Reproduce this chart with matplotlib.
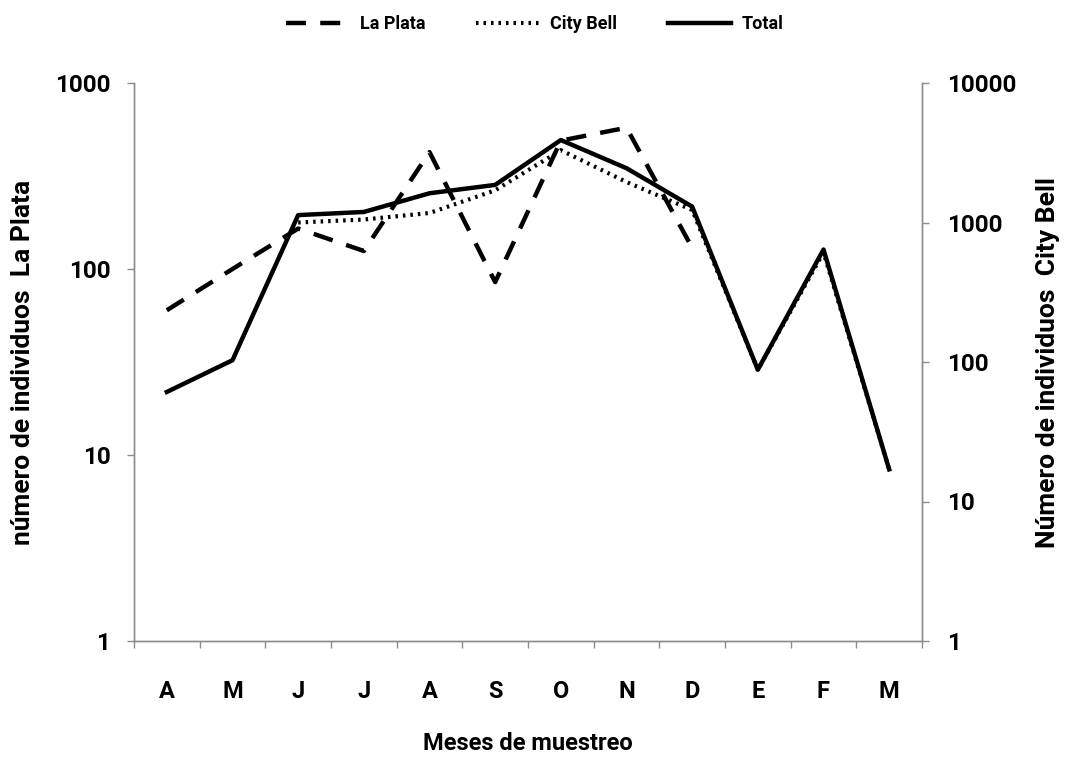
import numpy as np
import matplotlib
matplotlib.use("Agg")
import matplotlib.pyplot as plt
from matplotlib.ticker import FixedLocator, NullLocator, FixedFormatter

months = ['A', 'M', 'J', 'J', 'A', 'S', 'O', 'N', 'D', 'E', 'F', 'M']
la_plata = [60, 100, 165, 125, 425, 85, 490, 575, 130, np.nan, np.nan, np.nan]
city_bell = [np.nan, np.nan, 1000, 1050, 1170, 1700, 3300, 1950, 1230, 88, 610, 17]
total = [61, 103, 1130, 1190, 1620, 1860, 3900, 2450, 1300, 88, 640, 17]
left_ticks = [1, 10, 100, 1000]
right_ticks = [1, 10, 100, 1000, 10000]

plt.rcParams['font.family'] = ['Roboto', 'DejaVu Sans']
plt.rcParams['font.weight'] = 'bold'

fig = plt.figure(figsize=(10.7, 7.58), dpi=100)
ax = fig.add_axes([134/1070, 1-641/758, (922-134)/1070, (641-83)/758])
ax2 = ax.twinx()

x = np.arange(len(months))
gray = '#8c8c8c'

l1, = ax.plot(x, la_plata, color='black', lw=3.2, linestyle=(0, (4.5, 3.2)),
              dash_capstyle='butt', label='La Plata')
l2, = ax2.plot(x, city_bell, color='black', lw=3.0, linestyle=(0, (0.6, 1.2)),
               dash_capstyle='butt', label='City Bell')
l3, = ax2.plot(x, total, color='black', lw=3.2, linestyle='-', label='Total')

for a in (ax, ax2):
    a.set_yscale('log')
    a.set_xlim(-0.5, len(months) - 0.5)
    a.spines['top'].set_visible(False)
    for s in ('left', 'right', 'bottom'):
        a.spines[s].set_color(gray)
        a.spines[s].set_linewidth(1.0)
    a.yaxis.set_minor_locator(NullLocator())

ax.set_ylim(1, 1000)
ax2.set_ylim(1, 10000)
ax.yaxis.set_major_locator(FixedLocator(left_ticks))
ax.yaxis.set_major_formatter(FixedFormatter([str(t) for t in left_ticks]))
ax2.yaxis.set_major_locator(FixedLocator(right_ticks))
ax2.yaxis.set_major_formatter(FixedFormatter([str(t) for t in right_ticks]))

ax.tick_params(axis='y', which='major', direction='out', length=5, width=1,
               color=gray, labelsize=17.5, pad=12)
ax2.tick_params(axis='y', which='major', direction='out', length=5, width=1,
                color=gray, labelsize=17.5, pad=13)
for a in (ax, ax2):
    for lab in a.get_yticklabels():
        lab.set_fontweight('bold')

ax.xaxis.set_major_locator(FixedLocator(np.arange(-0.5, len(months), 1.0)))
ax.xaxis.set_major_formatter(FixedFormatter([''] * (len(months) + 1)))
ax.xaxis.set_minor_locator(FixedLocator(x))
ax.xaxis.set_minor_formatter(FixedFormatter(months))
ax.tick_params(axis='x', which='major', direction='out', length=5, width=1, color=gray)
ax.tick_params(axis='x', which='minor', length=0, labelsize=17, pad=28)
for lab in ax.get_xticklabels(minor=True):
    lab.set_fontweight('bold')

ax.set_xlabel('Meses de muestreo', fontsize=17, fontweight='bold', labelpad=21)
ax.set_ylabel('número de individuos  La Plata', fontsize=19, fontweight='bold', labelpad=14)
ax2.set_ylabel('Número de individuos  City Bell', fontsize=19, fontweight='bold', labelpad=14)

fig.legend(handles=[l1, l2, l3], loc='center', bbox_to_anchor=(0.5, 0.968), ncol=3,
           frameon=False, handlelength=3.5, handletextpad=0.6,
           columnspacing=2.8, prop={'family': ['Roboto', 'DejaVu Sans'], 'weight': 'bold', 'size': 13})

fig.savefig('out.png', dpi=100)
